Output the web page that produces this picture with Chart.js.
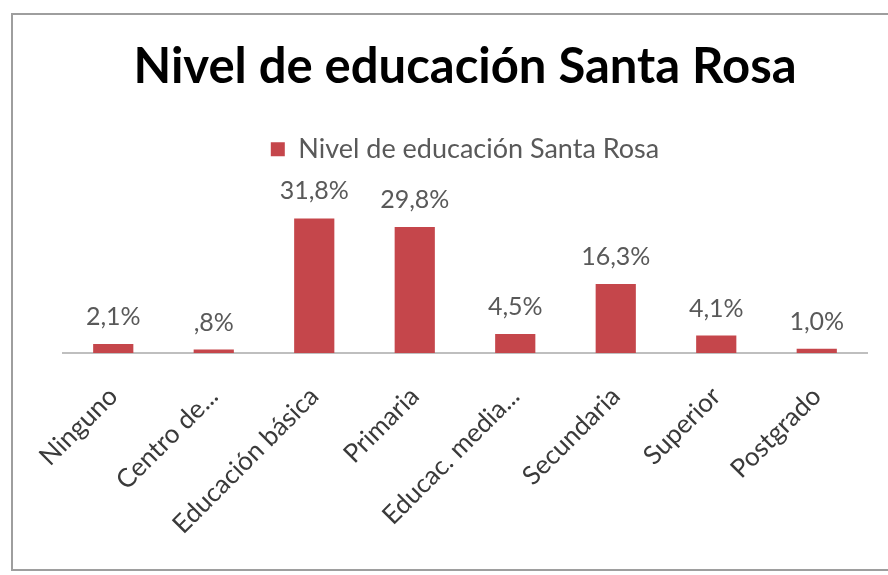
<!DOCTYPE html>
<html>
<head>
<meta charset="utf-8">
<script src="https://cdn.jsdelivr.net/npm/chart.js@4.4.1/dist/chart.umd.min.js"></script>
<style>
  html, body { margin: 0; padding: 0; background: #fff; }
  #wrap { position: relative; width: 888px; height: 575px; overflow: hidden; }
  #frame {
    position: absolute; left: 11px; top: 13px; width: 900px; height: 558px;
    border: 2px solid #9e9e9e; box-sizing: border-box;
  }
  #chart { position: absolute; left: 0; top: 0; }
</style>
</head>
<body>
<div id="wrap">
  <div id="frame"></div>
  <canvas id="chart" width="888" height="575"></canvas>
</div>
<script>
const BAR_RED = "#c5464b";
const TEXT_GREY = "#595959";
const FONT = "Lato";

const categories = [
  "Ninguno",
  "Centro de...",
  "Educación básica",
  "Primaria",
  "Educac. media...",
  "Secundaria",
  "Superior",
  "Postgrado",
];
const percentages = [2.1, 0.8, 31.8, 29.8, 4.5, 16.3, 4.1, 1.0];
const seriesName = "Nivel de educación Santa Rosa";
const chartTitle = "Nivel de educación Santa Rosa";

// Spanish style: comma decimal, no leading zero (",8%")
const formatPct = (v) => v.toFixed(1).replace(".", ",").replace(/^0,/, ",") + "%";

// Draw the value above each bar
const valueLabelsPlugin = {
  id: "valueLabels",
  afterDatasetsDraw: (chart) => {
    const { ctx } = chart;
    const meta = chart.getDatasetMeta(0);
    ctx.save();
    ctx.font = `25px ${FONT}`;
    ctx.fillStyle = TEXT_GREY;
    ctx.textAlign = "center";
    ctx.textBaseline = "alphabetic";
    meta.data.forEach((bar, i) => {
      ctx.fillText(formatPct(percentages[i]), bar.x, bar.y - 19);
    });
    ctx.restore();
  },
};

const ctx = document.getElementById("chart").getContext("2d");

new Chart(ctx, {
  type: "bar",
  data: {
    labels: categories,
    datasets: [
      {
        label: seriesName,
        data: percentages,
        backgroundColor: BAR_RED,
        borderWidth: 0,
        categoryPercentage: 1,
        barPercentage: 0.4,
      },
    ],
  },
  options: {
    responsive: false,
    animation: false,
    layout: {
      padding: { left: 63, right: 21, top: 0, bottom: 15 },
    },
    plugins: {
      title: {
        display: true,
        text: chartTitle,
        color: "#000",
        font: { family: FONT, size: 49, weight: "bold" },
        padding: { top: 38, bottom: 33 },
      },
      legend: {
        display: true,
        labels: {
          color: TEXT_GREY,
          font: { family: FONT, size: 27 },
          boxWidth: 14,
          boxHeight: 14,
          padding: 6,
        },
      },
      tooltip: { enabled: false },
    },
    scales: {
      x: {
        grid: { display: false },
        border: { display: true, color: "#bfbfbf", width: 2 },
        ticks: {
          autoSkip: false,
          maxRotation: 45,
          minRotation: 45,
          color: "#3a3a3a",
          padding: 20,
          font: { family: FONT, size: 26 },
        },
      },
      y: {
        display: false,
        min: 0,
        max: 42.6,
      },
    },
  },
  plugins: [valueLabelsPlugin],
});
</script>
</body>
</html>
